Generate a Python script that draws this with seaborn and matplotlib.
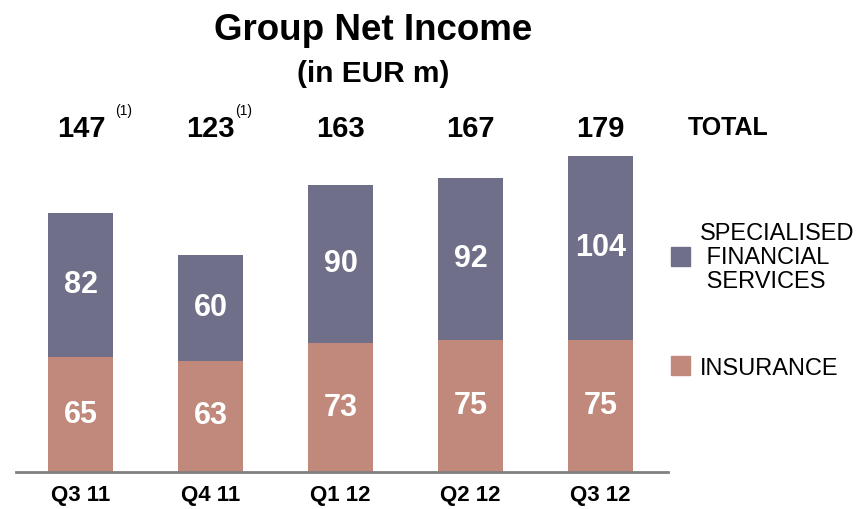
import matplotlib
matplotlib.use("Agg")
import matplotlib.pyplot as plt
import seaborn as sns
import pandas as pd
from matplotlib.patches import Rectangle

# data
quarters = ["Q3 11", "Q4 11", "Q1 12", "Q2 12", "Q3 12"]
insurance = [65, 63, 73, 75, 75]
sfs = [82, 60, 90, 92, 104]
totals = [147, 123, 163, 167, 179]
footnotes = ["(1)", "(1)", "", "", ""]

col_sfs = "#6F6F89"
col_ins = "#C1897B"

df = pd.DataFrame({"quarter": quarters, "insurance": insurance, "sfs": sfs, "total": totals})

sns.set_style("white")
plt.rcParams["font.family"] = ["Liberation Sans", "DejaVu Sans"]
plt.rcParams["text.color"] = "black"

fig = plt.figure(figsize=(8.59, 5.09), dpi=100)
ax = fig.add_axes([16 / 859, 37 / 509, 652 / 859, 372 / 509])

# stacked: total bar in SFS colour, insurance drawn over it
sns.barplot(data=df, x="quarter", y="total", color=col_sfs, width=0.5, ax=ax,
            saturation=1, linewidth=0)
sns.barplot(data=df, x="quarter", y="insurance", color=col_ins, width=0.5, ax=ax,
            saturation=1, linewidth=0)

ax.set_xlim(-0.5, 4.52)
ax.set_ylim(0, 211)
for s in ["top", "right", "left"]:
    ax.spines[s].set_visible(False)
ax.spines["bottom"].set_color("#808080")
ax.spines["bottom"].set_linewidth(2)
ax.set_yticks([])
ax.set_xlabel("")
ax.set_ylabel("")
ax.tick_params(axis="x", length=0, pad=9)
for lab in ax.get_xticklabels():
    lab.set_fontsize(16)
    lab.set_fontweight("bold")
    lab.set_color("black")

fn_offset = [0.26, 0.19]
for i in range(len(quarters)):
    ax.text(i, insurance[i] / 2, str(insurance[i]), ha="center", va="center",
            color="white", fontsize=22, fontweight="bold")
    ax.text(i, insurance[i] + sfs[i] / 2, str(sfs[i]), ha="center", va="center",
            color="white", fontsize=22, fontweight="bold")
    ax.text(i, 194.5, str(totals[i]), ha="center", va="center",
            color="black", fontsize=21, fontweight="bold")
    if footnotes[i]:
        ax.text(i + fn_offset[i], 205, footnotes[i], ha="left", va="center", fontsize=10)

ax.text(4.98, 195, "TOTAL", ha="center", va="center", fontsize=18, fontweight="bold",
        clip_on=False)

fig.text(373 / 859, 1 - 30 / 509, "Group Net Income", ha="center", va="center",
         fontsize=26.5, fontweight="bold")
fig.text(373 / 859, 1 - 74 / 509, "(in EUR m)", ha="center", va="center",
         fontsize=21.5, fontweight="bold")

# legend
fig.add_artist(Rectangle((671 / 859, 1 - 266 / 509), 19 / 859, 19 / 509,
                         transform=fig.transFigure, color=col_sfs))
fig.text(700 / 859, 1 - 258 / 509, "SPECIALISED\n FINANCIAL\n SERVICES", ha="left", va="center",
         fontsize=17, linespacing=1.1)
fig.add_artist(Rectangle((671 / 859, 1 - 375 / 509), 19 / 859, 19 / 509,
                         transform=fig.transFigure, color=col_ins))
fig.text(700 / 859, 1 - 369 / 509, "INSURANCE", ha="left", va="center", fontsize=17)

fig.savefig("out.png", dpi=100)
